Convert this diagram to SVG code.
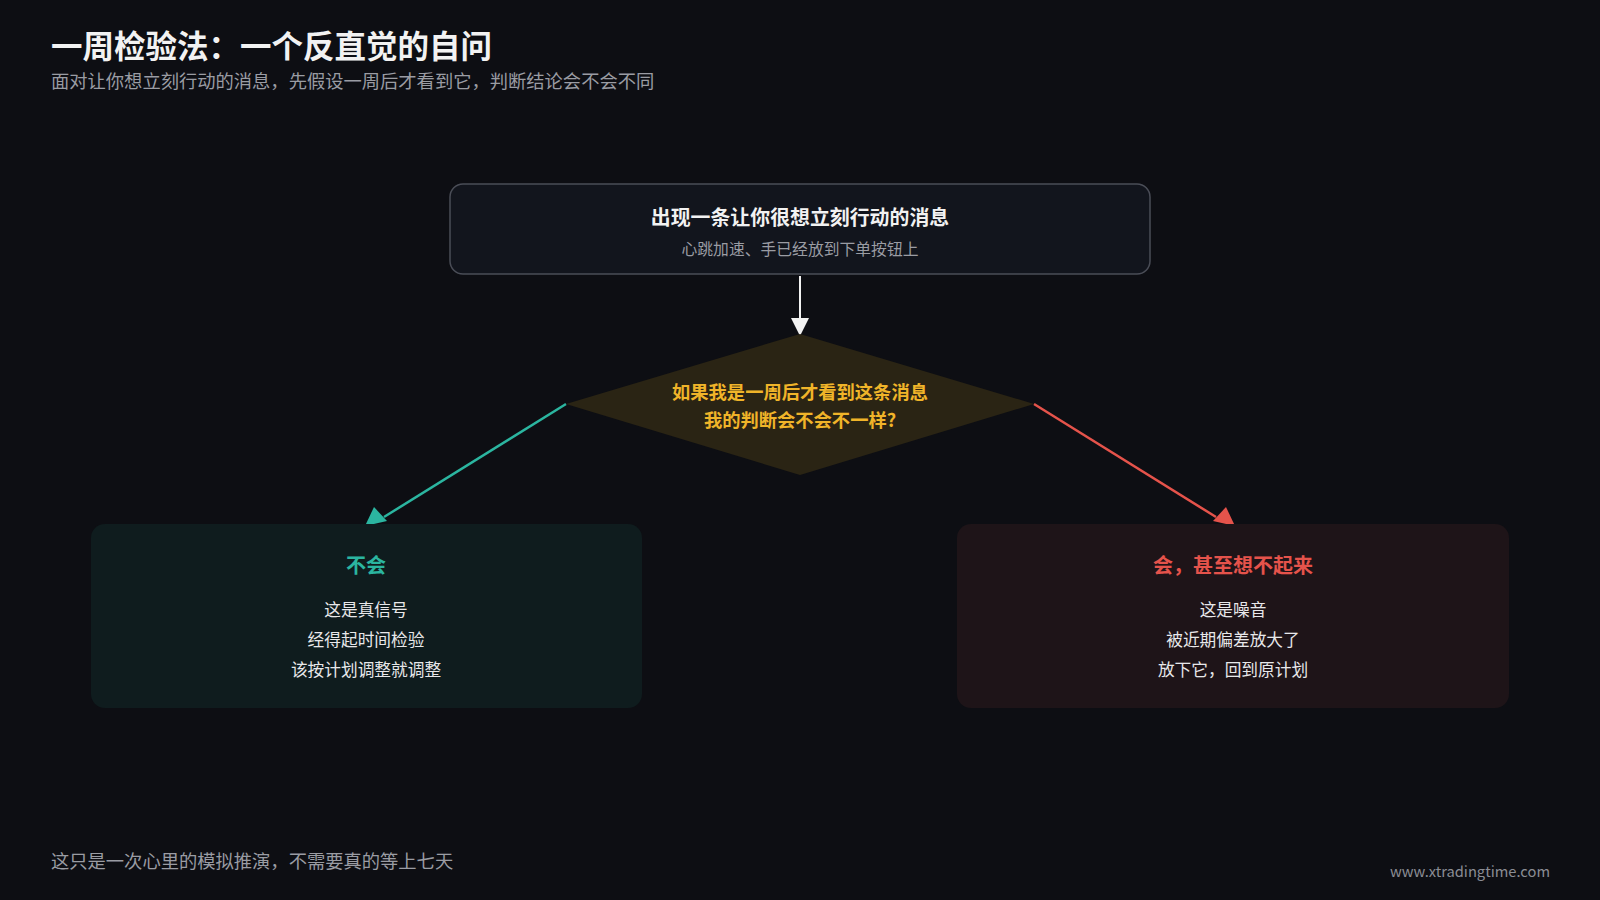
<svg xmlns="http://www.w3.org/2000/svg" width="1600" height="900" viewBox="0 0 1600 900">
<style>
text{font-family:"Noto Sans CJK SC","Liberation Sans",sans-serif}
.c{text-anchor:middle;dominant-baseline:central}
.w{fill:#e8e8ea;font-size:16.7px}
</style>
<rect width="1600" height="900" fill="#0d0e13"/>
<text x="51" y="58" font-size="31.5" font-weight="bold" fill="#f2f2f2">一周检验法：一个反直觉的自问</text>
<text x="51" y="88" font-size="18.3" fill="#9a9ca3">面对让你想立刻行动的消息，先假设一周后才看到它，判断结论会不会不同</text>
<g id="connectors">
<line x1="800" y1="276" x2="800" y2="326" stroke="#f2f2f2" stroke-width="2"/>
<path d="M791,318L809,318L800,336z" fill="#f2f2f2"/>
<line x1="566" y1="404" x2="384" y2="517" stroke="#2bb5a0" stroke-width="2.5"/>
<path d="M365,526L374,507L387,521z" fill="#2bb5a0"/>
<line x1="1034" y1="404" x2="1216" y2="517" stroke="#e5534b" stroke-width="2.5"/>
<path d="M1235,526L1213,521L1226,507z" fill="#e5534b"/>
</g>
<g id="start">
<rect x="450" y="184" width="700" height="90" rx="13" fill="#12151d" stroke="#4a4d57" stroke-width="1.5"/>
<text x="800" y="216" class="c" font-size="19.9" font-weight="bold" fill="#f2f2f2">出现一条让你很想立刻行动的消息</text>
<text x="800" y="248" class="c" font-size="15.8" fill="#9a9ca3">心跳加速、手已经放到下单按钮上</text>
</g>
<g id="decision">
<polygon points="566,404 800,334 1034,404 800,475" fill="#2a2414"/>
<text x="800" y="391" class="c" font-size="18.3" font-weight="bold" fill="#f0b429">如果我是一周后才看到这条消息</text>
<text x="800" y="419" class="c" font-size="18.3" font-weight="bold" fill="#f0b429">我的判断会不会不一样?</text>
</g>
<g id="no">
<rect x="91" y="524" width="551" height="184" rx="14" fill="#0f1c1e"/>
<text x="366" y="564" class="c" font-size="20" font-weight="bold" fill="#2bb5a0">不会</text>
<text x="366" y="609" class="c w">这是真信号</text>
<text x="366" y="639" class="c w">经得起时间检验</text>
<text x="366" y="669" class="c w">该按计划调整就调整</text>
</g>
<g id="yes">
<rect x="957" y="524" width="552" height="184" rx="14" fill="#1e1418"/>
<text x="1233" y="564" class="c" font-size="20" font-weight="bold" fill="#e5534b">会，甚至想不起来</text>
<text x="1233" y="609" class="c w">这是噪音</text>
<text x="1233" y="639" class="c w">被近期偏差放大了</text>
<text x="1233" y="669" class="c w">放下它，回到原计划</text>
</g>
<text x="51" y="868" font-size="18.3" fill="#9a9ca3">这只是一次心里的模拟推演，不需要真的等上七天</text>
<text x="1550" y="877" text-anchor="end" font-size="14.7" fill="#8a8c93">www.xtradingtime.com</text>
</svg>
